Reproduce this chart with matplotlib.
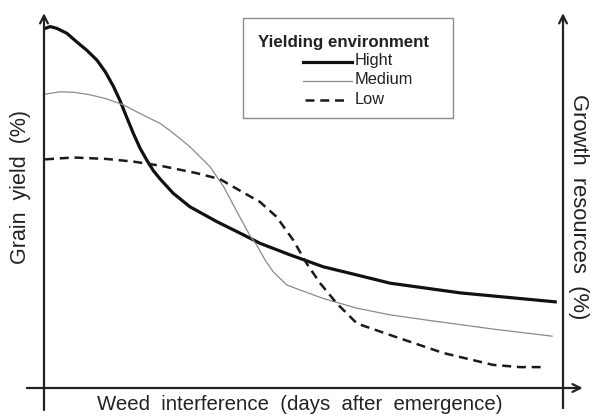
import numpy as np
import matplotlib.pyplot as plt
from matplotlib.lines import Line2D
from matplotlib.patches import Rectangle

plt.rcParams['font.family'] = ['Liberation Sans', 'DejaVu Sans']

# weed interference (relative days) and grain yield (%)
x_high = [0.2, 1.2, 2.5, 4.4, 6.3, 8.2, 10.2, 11.8, 13.4, 14.6, 15.9, 17.2, 18.5, 19.8, 21.1,
          22.4, 24.9, 28.1, 33.3, 37.8, 41.6, 47.4, 53.8, 60.3, 66.7, 80.2, 98.5]
y_high = [96.4, 96.9, 96.4, 95.1, 92.8, 90.6, 87.9, 84.8, 80.8, 77.2, 72.7, 68.3, 64.3, 61.1, 58.2,
          56.0, 52.2, 48.6, 44.6, 41.5, 38.8, 35.7, 32.5, 30.3, 28.1, 25.5, 23.1]

x_med = [0.2, 3.1, 5.7, 8.9, 12.1, 15.3, 18.5, 22.4, 24.3, 28.1, 32.0, 34.6, 37.2, 39.7, 41.0,
         42.6, 44.2, 46.8, 49.3, 53.8, 60.3, 66.7, 73.8, 86.5, 97.9]
y_med = [78.8, 79.4, 79.3, 78.6, 77.5, 75.9, 73.6, 70.9, 69.0, 64.7, 59.3, 54.0, 47.2, 40.8, 38.3,
         34.3, 31.1, 27.6, 26.3, 24.0, 21.4, 19.6, 18.2, 15.8, 13.9]

x_low = [0.2, 5.7, 12.1, 17.2, 22.4, 29.4, 33.9, 38.4, 41.6, 44.8, 48.0, 50.6, 53.2, 56.4,
         60.3, 66.7, 76.9, 86.5, 91.7, 96.5]
y_low = [61.3, 61.8, 61.4, 60.7, 59.6, 57.6, 56.0, 52.4, 49.9, 45.9, 39.7, 33.4, 28.1, 22.7,
         17.3, 14.2, 9.4, 6.2, 5.6, 5.6]

labels = ['Hight', 'Medium', 'Low']
legend_title = 'Yielding environment'

W, H = 592, 418
fig = plt.figure(figsize=(W/100, H/100), dpi=100)
ax = fig.add_axes([44/W, 30/H, 519/W, 373/H])
ax.set_xlim(0, 100)
ax.set_ylim(0, 100)
ax.axis('off')

styles = [dict(color='#111111', lw=2.3, solid_joinstyle='round'),
          dict(color='#8a8a8a', lw=0.9, solid_joinstyle='round'),
          dict(color='#1a1a1a', lw=1.8, dashes=(3.6, 2.3))]

ax.plot(x_high, y_high, **styles[0])
ax.plot(x_med, y_med, **styles[1])
ax.plot(x_low, y_low, **styles[2])

# axes drawn as arrows
arr = dict(arrowstyle='->', lw=1.6, color='#222222', mutation_scale=14, shrinkA=0, shrinkB=0)
ax.annotate('', xy=(0, 100.5), xytext=(0, -5.9), arrowprops=arr, annotation_clip=False)
ax.annotate('', xy=(100, 100.5), xytext=(100, -5.4), arrowprops=arr, annotation_clip=False)
ax.annotate('', xy=(103.8, 0), xytext=(-3.3, 0), arrowprops=arr, annotation_clip=False)

fig.text(21/W, 1 - 187/H, 'Grain  yield  (%)', rotation=90, ha='center', va='center',
         fontsize=15.5, color='#222222')
fig.text(578/W, 1 - 207/H, 'Growth  resources  (%)', rotation=-90, ha='center', va='center',
         fontsize=15.8, color='#222222')
fig.text(300/W, 1 - 405/H, 'Weed  interference  (days  after  emergence)', ha='center', va='center',
         fontsize=14.7, color='#222222')

# legend box
fig.patches.append(Rectangle((243/W, 1 - 118/H), 210/W, 100/H, transform=fig.transFigure,
                             facecolor='white', edgecolor='#8c8c8c', lw=1.0))
fig.text(344/W, 1 - 42/H, legend_title, ha='center', va='center', fontsize=12.2,
         fontweight='bold', color='#222222')
rows = [62, 81, 100]
for lab, st, yy in zip(labels, styles, rows):
    x0, x1 = (303, 352) if lab != 'Low' else (305, 346)
    fig.lines.append(Line2D([x0/W, x1/W], [1 - yy/H, 1 - yy/H], transform=fig.transFigure, **st))
    fig.text(355/W, 1 - (yy - 1)/H, lab, ha='left', va='center', fontsize=11.8, color='#222222')

fig.savefig('out.png', dpi=100)
